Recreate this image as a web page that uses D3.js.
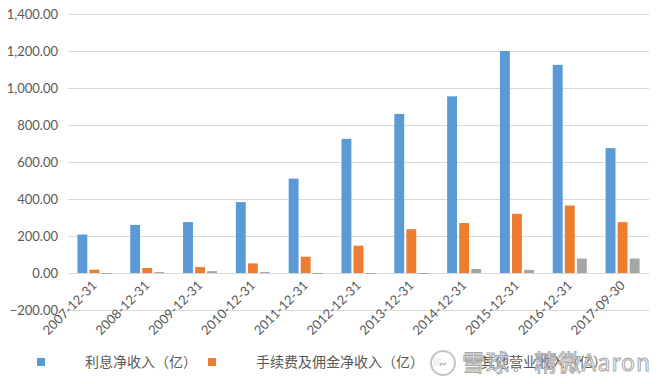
<!DOCTYPE html>
<html>
<head>
<meta charset="utf-8">
<script src="https://cdn.jsdelivr.net/npm/d3@7"></script>
<style>
  body { margin: 0; background: #fff; }
  svg text { font-family: Lato, "Noto Sans CJK SC", sans-serif; }
</style>
</head>
<body>
<div id="chart"></div>
<script>
// data
var categories = ['2007-12-31', '2008-12-31', '2009-12-31', '2010-12-31', '2011-12-31', '2012-12-31',
                  '2013-12-31', '2014-12-31', '2015-12-31', '2016-12-31', '2017-09-30'];
var seriesNames = ['利息净收入（亿）', '手续费及佣金净收入（亿）', '其他营业收入（亿）'];
var interestIncome = [208, 260, 275, 383, 510, 725, 860, 955, 1200, 1125, 675];
var feeIncome = [18, 27, 32, 52, 88, 148, 237, 270, 320, 365, 275];
var otherIncome = [-5, 5, 10, 5, -4, -4, -4, 22, 17, 78, 78];
var yTicks = [-200, 0, 200, 400, 600, 800, 1000, 1200, 1400];
var colors = ['#5b9bd5', '#ed7d31', '#a5a5a5'];

var width = 660, height = 384;
var margin = {left: 68, right: 11, top: 14, bottom: 74};

var svg = d3.select('#chart').append('svg')
            .attr('width', width).attr('height', height);

var x0 = d3.scaleBand().domain(categories)
           .range([margin.left, width - margin.right]);
var x1 = d3.scaleBand().domain([0, 1, 2])
           .range([-17, 17]).paddingInner(0.18);
var y = d3.scaleLinear().domain([-200, 1400])
          .range([height - margin.bottom, margin.top]);

// grid lines + y labels
var yAxis = d3.axisLeft(y).tickValues(yTicks)
              .tickFormat(d3.format(',.2f'))
              .tickSize(-(width - margin.left - margin.right))
              .tickPadding(10);
var gy = svg.append('g').attr('transform', 'translate(' + margin.left + ',0)').call(yAxis);
gy.select('.domain').remove();
gy.selectAll('line').attr('stroke', '#d9d9d9');
gy.selectAll('text').attr('fill', '#595959').style('font-size', '13px');

// bars
var allSeries = [interestIncome, feeIncome, otherIncome];
allSeries.forEach(function (vals, s) {
    svg.append('g').selectAll('rect')
       .data(vals)
       .enter().append('rect')
       .attr('x', function (d, i) { return x0(categories[i]) + x0.bandwidth() / 2 + x1(s); })
       .attr('width', x1.bandwidth())
       .attr('y', function (d) { return Math.min(y(d), y(0)); })
       .attr('height', function (d) { return Math.max(1, Math.abs(y(d) - y(0))); })
       .attr('fill', colors[s]);
});

// x labels, rotated
svg.append('g').selectAll('text')
   .data(categories)
   .enter().append('text')
   .attr('transform', function (d) {
       return 'translate(' + (x0(d) + x0.bandwidth() / 2) + ',' + (y(0) + 10) + ') rotate(-45)';
   })
   .attr('text-anchor', 'end')
   .attr('dy', '0.35em')
   .attr('fill', '#595959')
   .style('font-size', '13px')
   .text(function (d) { return d; });

// legend
var legendX = [37, 208, 433];
var legend = svg.append('g');
seriesNames.forEach(function (name, s) {
    legend.append('rect')
          .attr('x', legendX[s]).attr('y', 358)
          .attr('width', 8).attr('height', 8)
          .attr('fill', colors[s]);
    legend.append('text')
          .attr('x', legendX[s] + 48).attr('y', 362)
          .attr('dy', '0.35em')
          .attr('fill', '#595959')
          .style('font-size', '14px')
          .style('font-family', '"Noto Sans CJK SC", sans-serif')
          .text(name);
});

// watermark (sits on top of the third legend item, as in the source)
var wm = svg.append('g').attr('opacity', 0.85);
wm.append('circle').attr('cx', 443).attr('cy', 363).attr('r', 12)
  .attr('fill', '#fff').attr('stroke', '#bbb').attr('stroke-width', 2);
wm.append('text').attr('x', 443).attr('y', 363).attr('dy', '0.35em')
  .attr('text-anchor', 'middle').attr('fill', '#aaa')
  .style('font-size', '13px').style('font-weight', 'bold').text('~');
wm.append('text').attr('x', 462).attr('y', 363).attr('dy', '0.35em')
  .attr('fill', '#fff').attr('stroke', '#999').attr('stroke-width', 1)
  .attr('textLength', 188)
  .style('font-size', '23px')
  .style('font-family', '"Noto Sans CJK SC", sans-serif')
  .text('雪球：精微Aaron');
</script>
</body>
</html>
